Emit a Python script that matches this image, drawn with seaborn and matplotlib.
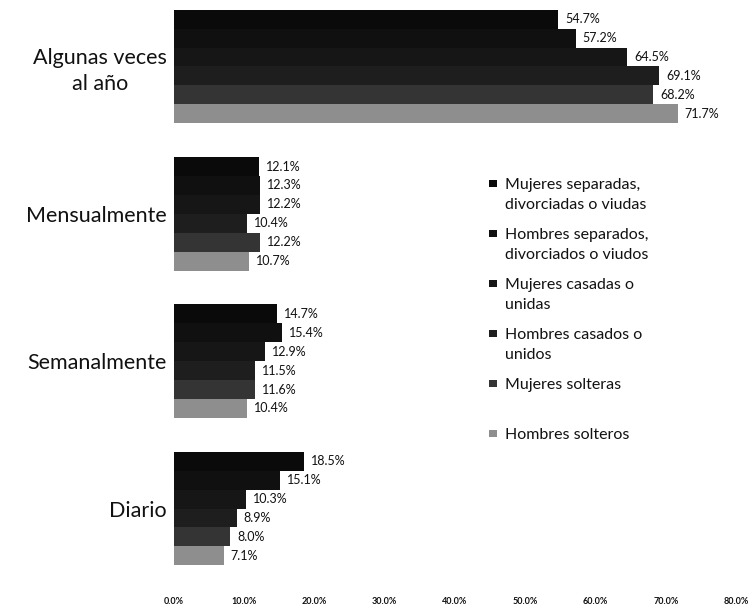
import pandas as pd
import numpy as np
import matplotlib
matplotlib.use("Agg")
import matplotlib.pyplot as plt
import seaborn as sns
from matplotlib.patches import Rectangle
from matplotlib.legend_handler import HandlerPatch

# Data (percent of each group)
frecuencias = ["Algunas veces\nal año", "Mensualmente", "Semanalmente", "Diario"]
grupos = ["Mujeres separadas,\ndivorciadas o viudas",
          "Hombres separados,\ndivorciados o viudos",
          "Mujeres casadas o\nunidas",
          "Hombres casados o\nunidos",
          "Mujeres solteras",
          "Hombres solteros"]
mujeres_separadas = [54.7, 12.1, 14.7, 18.5]
hombres_separados = [57.2, 12.3, 15.4, 15.1]
mujeres_casadas = [64.5, 12.2, 12.9, 10.3]
hombres_casados = [69.1, 10.4, 11.5, 8.9]
mujeres_solteras = [68.2, 12.2, 11.6, 8.0]
hombres_solteros = [71.7, 10.7, 10.4, 7.1]
x_ticks = [0, 10, 20, 30, 40, 50, 60, 70, 80]

colores = ["#0a0a0a", "#101010", "#161616", "#1e1e1e", "#343434", "#8e8e8e"]

series = [mujeres_separadas, hombres_separados, mujeres_casadas,
          hombres_casados, mujeres_solteras, hombres_solteros]
rows = []
for g, vals in zip(grupos, series):
    for f, v in zip(frecuencias, vals):
        rows.append({"frecuencia": f, "grupo": g, "valor": v})
df = pd.DataFrame(rows)

sns.set_style("white")
plt.rcParams["font.family"] = ["Lato", "DejaVu Sans"]

fig = plt.figure(figsize=(7.52, 6.08), dpi=100)
ax = fig.add_axes([174 / 752, 1 - 585 / 608, 562 / 752, 585 / 608])

sns.barplot(data=df, x="valor", y="frecuencia", hue="grupo", orient="h",
            order=frecuencias, hue_order=grupos, palette=colores,
            width=0.77, gap=0, legend=False, ax=ax, saturation=1,
            edgecolor="none", linewidth=0)

for cont, vals in zip(ax.containers, series):
    ax.bar_label(cont, labels=[f"{v:.1f}%" for v in vals], padding=5,
                 fontsize=9, color="#111111")

ax.set_xlim(0, 80)
ax.set_ylim(3.519, -0.451)
ax.set_xticks(x_ticks)
ax.set_xticklabels([f"{t:.1f}%" for t in x_ticks], fontsize=6.5,
                   fontweight="bold", color="#111111")
ax.tick_params(axis="x", length=0, pad=9)
ax.tick_params(axis="y", length=0, pad=5)
for lab in ax.get_yticklabels():
    lab.set_fontsize(15.5)
    lab.set_color("#111111")
    lab.set_multialignment("center")
    lab.set_linespacing(1.35)
ax.set_xlabel("")
ax.set_ylabel("")
sns.despine(ax=ax, left=True, bottom=True)


class TopSquare(HandlerPatch):
    def __init__(self, lift):
        super().__init__()
        self.lift = lift

    def create_artists(self, legend, orig_handle, xdescent, ydescent,
                       width, height, fontsize, trans):
        s = 0.47 * fontsize
        p = Rectangle((-xdescent + width - s, -ydescent + (height - s) / 2 + self.lift * fontsize),
                      s, s, facecolor=orig_handle.get_facecolor(),
                      edgecolor="none", transform=trans)
        return [p]


handles = [Rectangle((0, 0), 1, 1, facecolor=c) for c in colores]
labels = list(grupos)
labels[4] = labels[4] + "\n "
hmap = {h: TopSquare(0.72 if i < 5 else 0.0) for i, h in enumerate(handles)}
leg = fig.legend(handles, labels, handler_map=hmap, loc="upper left",
                 bbox_to_anchor=(476 / 752, 1 - 170 / 608), frameon=False,
                 fontsize=11.5, labelspacing=1.0, handlelength=0.8,
                 handletextpad=0.5, borderpad=0, labelcolor="#111111")
for t in leg.get_texts():
    t.set_linespacing(1.55)

fig.savefig("out.png", dpi=100)
